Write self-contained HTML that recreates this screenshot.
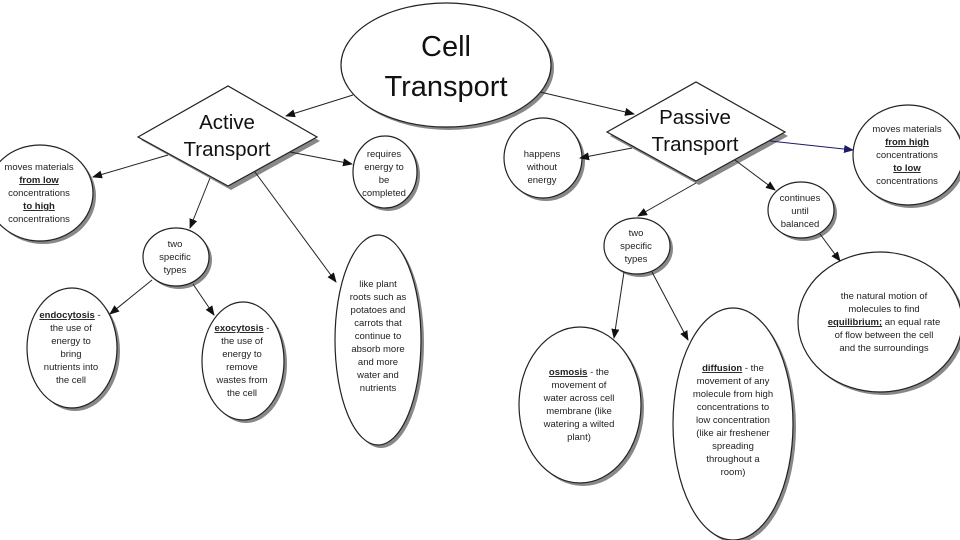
<!DOCTYPE html>
<html><head><meta charset="utf-8"><style>
html,body{margin:0;padding:0;background:#fff;}
svg{display:block;font-family:"Liberation Sans",sans-serif;}
.s{font-size:9.5px;fill:#222;text-anchor:middle;}
.b{font-weight:bold;text-decoration:underline;}
.big{font-size:20.5px;fill:#111;text-anchor:middle;}
</style></head><body>
<svg width="960" height="540" viewBox="0 0 960 540" xmlns="http://www.w3.org/2000/svg">
<defs>
<marker id="a" markerWidth="10" markerHeight="8" refX="9" refY="4" orient="auto" markerUnits="userSpaceOnUse"><path d="M0,0 L10,4 L0,8 z" fill="#111"/></marker>
<marker id="n" markerWidth="10" markerHeight="8" refX="9" refY="4" orient="auto" markerUnits="userSpaceOnUse"><path d="M0,0 L10,4 L0,8 z" fill="#1a1a6a"/></marker>
</defs>
<g fill="#888" stroke="none">
<ellipse cx="449" cy="68" rx="105" ry="62"/>
<polygon points="141,140 231,90 320,141 231,190"/>
<polygon points="610,136 699,86 788,136 699,185"/>
<ellipse cx="43" cy="196" rx="53" ry="48"/>
<ellipse cx="388" cy="175" rx="32" ry="36"/>
<ellipse cx="179" cy="260" rx="33" ry="29"/>
<ellipse cx="75" cy="351" rx="45" ry="60"/>
<ellipse cx="246" cy="364" rx="41" ry="59"/>
<ellipse cx="381" cy="343" rx="43" ry="105"/>
<ellipse cx="546" cy="161" rx="39" ry="40"/>
<ellipse cx="911" cy="158" rx="55" ry="50"/>
<ellipse cx="804" cy="213" rx="33" ry="28"/>
<ellipse cx="640" cy="249" rx="33" ry="28"/>
<ellipse cx="883" cy="325" rx="82" ry="70"/>
<ellipse cx="583" cy="408" rx="61" ry="78"/>
<ellipse cx="736" cy="427" rx="60" ry="116"/>
</g>
<g fill="#fff" stroke="#222" stroke-width="1.2">
<ellipse cx="446" cy="65" rx="105" ry="62"/>
<polygon points="138,137 228,86 317,137 228,186"/>
<polygon points="607,132 696,82 785,132 696,181"/>
<ellipse cx="40" cy="193" rx="53" ry="48"/>
<ellipse cx="385" cy="172" rx="32" ry="36"/>
<ellipse cx="176" cy="257" rx="33" ry="29"/>
<ellipse cx="72" cy="348" rx="45" ry="60"/>
<ellipse cx="243" cy="361" rx="41" ry="59"/>
<ellipse cx="378" cy="340" rx="43" ry="105"/>
<ellipse cx="543" cy="158" rx="39" ry="40"/>
<ellipse cx="908" cy="155" rx="55" ry="50"/>
<ellipse cx="801" cy="210" rx="33" ry="28"/>
<ellipse cx="637" cy="246" rx="33" ry="28"/>
<ellipse cx="880" cy="322" rx="82" ry="70"/>
<ellipse cx="580" cy="405" rx="61" ry="78"/>
<ellipse cx="733" cy="424" rx="60" ry="116"/>
</g>
<g stroke="#222" stroke-width="1" fill="none" marker-end="url(#a)">
<line x1="353" y1="95" x2="286" y2="116"/>
<line x1="540" y1="92" x2="634" y2="114"/>
<line x1="168" y1="155" x2="93" y2="177"/>
<line x1="290" y1="152" x2="352" y2="164"/>
<line x1="210" y1="178" x2="190" y2="228"/>
<line x1="255" y1="172" x2="336" y2="282"/>
<line x1="152" y1="280" x2="110" y2="314"/>
<line x1="193" y1="284" x2="214" y2="315"/>
<line x1="632" y1="148" x2="580" y2="158"/>
<line x1="735" y1="160" x2="775" y2="190"/>
<line x1="696" y1="183" x2="638" y2="216"/>
<line x1="820" y1="234" x2="840" y2="261"/>
<line x1="624" y1="272" x2="614" y2="338"/>
<line x1="652" y1="272" x2="688" y2="340"/>
</g>
<line x1="770" y1="141" x2="853" y2="150" stroke="#1a1a6a" stroke-width="1" marker-end="url(#n)"/>
<text x="446" y="56" style="font-size:29px;text-anchor:middle;fill:#111">Cell</text>
<text x="446" y="96" style="font-size:29px;text-anchor:middle;fill:#111">Transport</text>
<text class="big" x="227" y="129">Active</text>
<text class="big" x="227" y="156">Transport</text>
<text class="big" x="695" y="124">Passive</text>
<text class="big" x="695" y="151">Transport</text>
<g class="s">
<text x="39" y="170">moves materials</text>
<text x="39" y="183" class="b">from low</text>
<text x="39" y="196">concentrations</text>
<text x="39" y="209" class="b">to high</text>
<text x="39" y="222">concentrations</text>
<text x="384" y="157">requires</text>
<text x="384" y="170">energy to</text>
<text x="384" y="183">be</text>
<text x="384" y="196">completed</text>
<text x="175" y="247">two</text>
<text x="175" y="260">specific</text>
<text x="175" y="273">types</text>
<text x="70" y="318"><tspan class="b">endocytosis</tspan> -</text>
<text x="71" y="331">the use of</text>
<text x="71" y="344">energy to</text>
<text x="71" y="357">bring</text>
<text x="71" y="370">nutrients into</text>
<text x="71" y="383">the cell</text>
<text x="242" y="331"><tspan class="b">exocytosis</tspan> -</text>
<text x="242" y="344">the use of</text>
<text x="242" y="357">energy to</text>
<text x="242" y="370">remove</text>
<text x="242" y="383">wastes from</text>
<text x="242" y="396">the cell</text>
<text x="378" y="287">like plant</text>
<text x="378" y="300">roots such as</text>
<text x="378" y="313">potatoes and</text>
<text x="378" y="326">carrots that</text>
<text x="378" y="339">continue to</text>
<text x="378" y="352">absorb more</text>
<text x="378" y="365">and more</text>
<text x="378" y="378">water and</text>
<text x="378" y="391">nutrients</text>
<text x="542" y="157">happens</text>
<text x="542" y="170">without</text>
<text x="542" y="183">energy</text>
<text x="907" y="132">moves materials</text>
<text x="907" y="145" class="b">from high</text>
<text x="907" y="158">concentrations</text>
<text x="907" y="171" class="b">to low</text>
<text x="907" y="184">concentrations</text>
<text x="800" y="201">continues</text>
<text x="800" y="214">until</text>
<text x="800" y="227">balanced</text>
<text x="636" y="236">two</text>
<text x="636" y="249">specific</text>
<text x="636" y="262">types</text>
<text x="884" y="299">the natural motion of</text>
<text x="884" y="312">molecules to find</text>
<text x="884" y="325"><tspan class="b">equilibrium;</tspan> an equal rate</text>
<text x="884" y="338">of flow between the cell</text>
<text x="884" y="351">and the surroundings</text>
<text x="579" y="375"><tspan class="b">osmosis</tspan> - the</text>
<text x="579" y="388">movement of</text>
<text x="579" y="401">water across cell</text>
<text x="579" y="414">membrane (like</text>
<text x="579" y="427">watering a wilted</text>
<text x="579" y="440">plant)</text>
<text x="733" y="371"><tspan class="b">diffusion</tspan> - the</text>
<text x="733" y="384">movement of any</text>
<text x="733" y="397">molecule from high</text>
<text x="733" y="410">concentrations to</text>
<text x="733" y="423">low concentration</text>
<text x="733" y="436">(like air freshener</text>
<text x="733" y="449">spreading</text>
<text x="733" y="462">throughout a</text>
<text x="733" y="475">room)</text>
</g>
</svg>
</body></html>
